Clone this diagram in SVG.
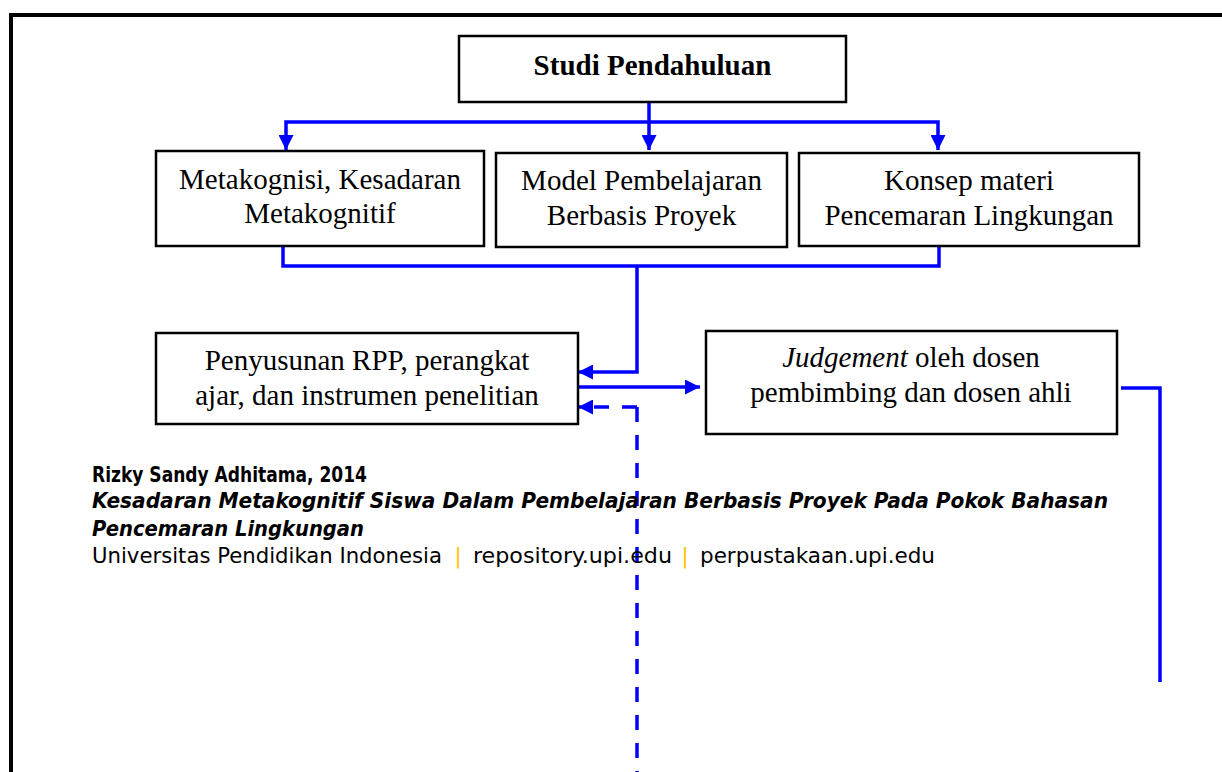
<svg xmlns="http://www.w3.org/2000/svg" width="1222" height="772" viewBox="0 0 1222 772">
<style>
.box{fill:#fff;stroke:#000;stroke-width:2.5}
.t{font-family:"Liberation Serif","Times New Roman",serif;font-size:29px;fill:#000;text-anchor:middle}
.c{fill:none;stroke:#0000ff;stroke-width:3.5}
.d{stroke-dasharray:15 13}
.f{font-family:"DejaVu Sans Condensed","DejaVu Sans",Tahoma,Verdana,sans-serif;fill:#000}
.fb{font-size:21px;font-weight:bold}
.fr{font-size:21px}
.sep{font-family:"DejaVu Sans",sans-serif;font-size:21px;fill:#ffc000;text-anchor:middle}
</style>
<defs>
<marker id="ah" markerUnits="userSpaceOnUse" markerWidth="15" markerHeight="15" refX="15" refY="7.5" orient="auto" viewBox="0 0 15 15">
<path d="M0,0 L15,7.5 L0,15 z" fill="#0000ff"/>
</marker>
</defs>
<rect width="1222" height="772" fill="#fff"/>
<path d="M11,772 V15 H1222" fill="none" stroke="#000" stroke-width="4"/>

<g id="connectors">
<path class="c" d="M649,102 V150" marker-end="url(#ah)"/>
<path class="c" d="M649,122 H286 V150" marker-end="url(#ah)"/>
<path class="c" d="M649,122 H938 V150" marker-end="url(#ah)"/>
<path class="c" d="M283,246 V266 H939 V246"/>
<path class="c" d="M637,266 V372 H578" marker-end="url(#ah)"/>
<path class="c" d="M578,387 H700" marker-end="url(#ah)"/>
<path class="c d" d="M637,407 H578" marker-end="url(#ah)"/>
<path class="c d" d="M637,407 V772"/>
<path class="c" d="M1121,388 H1160 V682"/>
</g>

<g id="studi">
<rect class="box" x="459" y="36" width="387" height="66"/>
<text class="t" x="652.5" y="75" font-weight="bold">Studi Pendahuluan</text>
</g>
<g id="metakognisi">
<rect class="box" x="156" y="151" width="328" height="95"/>
<text class="t" x="320" y="189">Metakognisi, Kesadaran</text>
<text class="t" x="320" y="223">Metakognitif</text>
</g>
<g id="model">
<rect class="box" x="496" y="153" width="291" height="94"/>
<text class="t" x="641.5" y="190">Model Pembelajaran</text>
<text class="t" x="641.5" y="225">Berbasis Proyek</text>
</g>
<g id="konsep">
<rect class="box" x="799" y="153" width="340" height="93"/>
<text class="t" x="969" y="190">Konsep materi</text>
<text class="t" x="969" y="225">Pencemaran Lingkungan</text>
</g>
<g id="penyusunan">
<rect class="box" x="156" y="333" width="422" height="91"/>
<text class="t" x="367" y="370">Penyusunan RPP, perangkat</text>
<text class="t" x="367" y="405">ajar, dan instrumen penelitian</text>
</g>
<g id="judgement">
<rect class="box" x="706" y="331" width="411" height="103"/>
<text class="t" x="911" y="367"><tspan font-style="italic">Judgement</tspan> oleh dosen</text>
<text class="t" x="911" y="402">pembimbing dan dosen ahli</text>
</g>

<g id="footer">
<text class="f fb" x="92" y="482" textLength="275" lengthAdjust="spacingAndGlyphs">Rizky Sandy Adhitama, 2014</text>
<text class="f fb" x="92" y="508" font-style="italic" textLength="1016" lengthAdjust="spacingAndGlyphs">Kesadaran Metakognitif Siswa Dalam Pembelajaran Berbasis Proyek Pada Pokok Bahasan</text>
<text class="f fb" x="92" y="536" font-style="italic" textLength="272" lengthAdjust="spacingAndGlyphs">Pencemaran Lingkungan</text>
<text class="f fr" x="92" y="563" textLength="350" lengthAdjust="spacingAndGlyphs">Universitas Pendidikan Indonesia</text>
<text class="sep" x="458" y="563">|</text>
<text class="f fr" x="473" y="563" textLength="199" lengthAdjust="spacingAndGlyphs">repository.upi.edu</text>
<text class="sep" x="685" y="563">|</text>
<text class="f fr" x="700" y="563" textLength="235" lengthAdjust="spacingAndGlyphs">perpustakaan.upi.edu</text>
</g>
</svg>
